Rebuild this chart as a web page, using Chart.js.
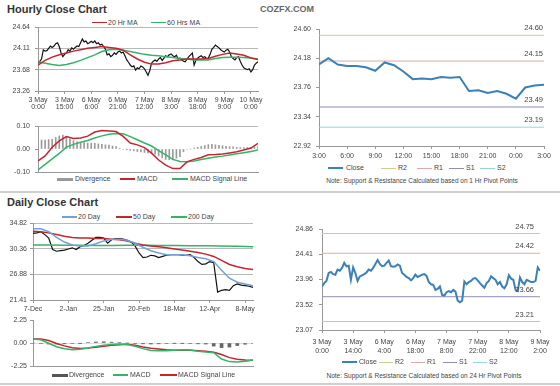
<!DOCTYPE html>
<html>
<head>
<meta charset="utf-8">
<script src="https://cdn.jsdelivr.net/npm/chart.js@4.4.1/dist/chart.umd.min.js"></script>
<style>
  body { margin: 0; width: 560px; height: 386px; position: relative; background: #fff; overflow: hidden;
         font-family: "Liberation Sans", Arial, sans-serif; }
  canvas { position: absolute; }
  .title { position: absolute; left: 7px; font-weight: bold; font-size: 11px; color: #333; line-height: 12px; }
  .brand { position: absolute; left: 260px; top: 4px; font-weight: bold; font-size: 9px; color: #666; line-height: 10px; }
  .lg { position: absolute; font-size: 7px; color: #444; white-space: nowrap; line-height: 8px; }
  .sw { position: absolute; }
  .note { position: absolute; font-size: 6.5px; color: #444; text-align: center; white-space: nowrap; line-height: 8px; }
  .rule { position: absolute; left: 0; width: 560px; height: 2px; background: #cfcfcf; }
</style>
</head>
<body>
<div class="title" style="top:3px">Hourly Close Chart</div>
<div class="brand">COZFX.COM</div>
<div class="rule" style="top:191px"></div>
<div class="title" style="top:196px">Daily Close Chart</div>
<div class="rule" style="top:383px"></div>
<div class="note" style="left:322px;width:200px;top:177px">Note: Support &amp; Resistance Calculated based on 1 Hr Pivot Points</div>
<div class="note" style="left:324px;width:200px;top:372px">Note: Support &amp; Resistance Calculated based on 24 Hr Pivot Points</div>

<script>
// ── Hourly close chart (hourly points from 3 May 0:00) ──
const hourlyTicks = [0, 15, 30, 45, 60, 75, 90, 105, 120]
const hourlyTickLabels = [
  ['3 May', '0:00'], ['3 May', '15:00'], ['6 May', '6:00'], ['6 May', '21:00'], ['7 May', '12:00'],
  ['8 May', '3:00'], ['8 May', '18:00'], ['9 May', '9:00'], ['10 May', '0:00'],
]
const hourlyYTicks = [23.26, 23.72, 24.18, 24.64]
const hourlyYLabels = ['23.26', '23.68', '24.11', '24.64']

const hourlyClose = [
  23.86, 23.90, 23.95, 24.15, 24.12, 24.13, 24.18, 24.23, 24.20, 24.23,
  24.28, 24.30, 24.22, 24.08, 24.00, 24.05, 24.08, 24.15, 24.12, 24.19,
  24.16, 24.20, 24.23, 24.22, 24.30, 24.38, 24.32, 24.34, 24.28, 24.30,
  24.33, 24.30, 24.34, 24.28, 24.30, 24.25, 24.27, 24.22, 24.16, 24.04,
  24.06, 24.00, 24.03, 24.08, 24.05, 24.10, 24.12, 24.08, 24.10, 24.02,
  23.93, 23.88, 23.82, 23.78, 23.80, 23.71, 23.76, 23.74, 23.80, 23.78,
  23.74, 23.67, 23.60, 23.70, 23.86, 23.90, 23.93, 23.90, 23.95, 23.98,
  23.92, 23.97, 24.02, 24.00, 24.04, 24.06, 24.02, 24.00, 24.03, 23.95,
  23.97, 23.93, 23.90, 23.89, 23.95, 24.00, 24.04, 24.08, 23.82, 23.92,
  23.97, 24.00, 24.02, 23.98, 24.00, 23.96, 23.97, 24.05, 24.16, 24.20,
  24.25, 24.22, 24.19, 24.15, 24.12, 24.10, 24.14, 24.16, 24.10, 24.00,
  23.96, 23.93, 23.98, 24.00, 23.90, 23.82, 23.76, 23.74, 23.72, 23.74,
  23.67, 23.72, 23.82, 23.86, 23.89,
]
// every 4 hours
const hourlyMA20 = [
  23.82, 23.92, 23.99, 24.04, 24.08, 24.12, 24.15, 24.18, 24.20, 24.22, 24.20, 24.18, 24.14, 24.04, 23.95, 23.88,
  23.84, 23.84, 23.87, 23.91, 23.93, 23.95, 23.95, 23.95, 23.96, 24.01, 24.05, 24.08, 24.06, 24.03, 23.97, 23.94,
]
const hourlyMA60 = [
  23.89, 23.86, 23.83, 23.81, 23.83, 23.87, 23.92, 23.98, 24.04, 24.11, 24.15, 24.16, 24.14, 24.11, 24.08, 24.05,
  24.03, 24.02, 24.00, 23.98, 23.96, 23.95, 23.93, 23.93, 23.93, 23.96, 23.98, 23.99, 23.99, 23.98, 23.97, 23.95,
]
const hourlyMacd = [
  -0.052, -0.030, 0.008, 0.035, 0.054, 0.046, 0.048, 0.056, 0.074, 0.080, 0.078, 0.076, 0.055, 0.026, 0.018, 0.006,
  -0.018, -0.048, -0.070, -0.085, -0.085, -0.056, -0.045, -0.037, -0.025, -0.024, -0.022, -0.017, -0.012, -0.004, 0.004, 0.025,
]
const hourlySignal = [
  -0.091, -0.067, -0.043, -0.019, 0.008, 0.020, 0.029, 0.037, 0.048, 0.057, 0.064, 0.067, 0.066, 0.054, 0.040, 0.026,
  0.013, -0.007, -0.026, -0.045, -0.054, -0.055, -0.052, -0.046, -0.040, -0.035, -0.031, -0.026, -0.021, -0.016, -0.011, -0.004,
]
// every 2 hours
const hourlyDivergence = [
  0.039, 0.039, 0.039, 0.041, 0.042, 0.050, 0.057, 0.060, 0.055, 0.044, 0.036, 0.031, 0.029, 0.028, 0.026, 0.025,
  0.025, 0.022, 0.020, 0.018, 0.017, 0.013, 0.010, 0.003, -0.002, -0.004, -0.006, -0.008, -0.011, -0.013, -0.015, -0.017,
  -0.018, -0.022, -0.030, -0.038, -0.045, -0.047, -0.048, -0.040, -0.033, -0.012, -0.002, 0.000, 0.004, 0.007, 0.011, 0.015,
  0.019, 0.020, 0.018, 0.016, 0.014, 0.012, 0.010, 0.009, 0.007, 0.006, 0.006, 0.006, 0.006, 0.008, 0.010,
]

// ── Hourly pivot chart (last 24 hours) ──
const pivotHourTicks = [0, 3, 6, 9, 12, 15, 18, 21, 24]
const pivotHourTickLabels = ['3:00', '6:00', '9:00', '12:00', '15:00', '18:00', '21:00', '0:00', '3:00']
const pivotHourYTicks = [22.92, 23.34, 23.76, 24.18, 24.60]
const pivotHourYLabels = ['22.92', '23.34', '23.76', '24.18', '24.60']
const pivotHourClose = [
  24.09, 24.18, 24.09, 24.07, 24.07, 24.05, 24.00, 24.12, 24.08, 23.99, 23.88, 23.89, 23.88,
  23.91, 23.90, 23.91, 23.71, 23.72, 23.68, 23.71, 23.67, 23.60, 23.76, 23.79, 23.80,
]
const pivotHourLevels = [24.51, 24.14, 23.48, 23.19]          // R2, R1, S1, S2
const pivotHourLevelLabels = ['24.60', '24.15', '23.49', '23.19']

// ── Daily close chart (trading days from 7 Dec) ──
const dailyTicks = [0, 18, 36, 54, 72, 90, 108]
const dailyTickLabels = ['7-Dec', '2-Jan', '25-Jan', '20-Feb', '18-Mar', '12-Apr', '8-May']
const dailyYTicks = [21.41, 25.88, 30.35, 34.82]
const dailyYLabels = ['21.41', '26.88', '30.36', '34.82']
// every 2 days
const dailyClose = [
  33.0, 33.1, 33.3, 32.8, 32.2, 30.2, 29.9, 30.0, 30.1, 30.3,
  30.5, 30.2, 30.7, 30.9, 31.3, 31.8, 32.3, 32.3, 32.2, 31.3,
  31.9, 32.1, 32.1, 32.0, 31.8, 31.5, 30.8, 29.6, 28.8, 28.9,
  29.2, 29.1, 28.8, 29.0, 29.2, 29.3, 29.3, 29.3, 29.2, 29.2,
  29.3, 28.8, 28.1, 27.6, 27.7, 28.1, 27.9, 22.8, 23.1, 23.2,
  23.1, 23.9, 24.2, 24.0, 23.9, 23.8, 23.6,
]
// every 4 days
const daily20 = [
  33.8, 33.8, 33.3, 32.3, 31.5, 31.0, 30.8, 30.8, 31.2, 31.7, 32.0, 32.0, 31.8, 31.3, 30.6,
  30.0, 29.6, 29.3, 29.3, 29.3, 29.1, 28.8, 28.6, 28.1, 26.6, 25.2, 24.5, 24.2, 23.9,
]
const daily50 = [
  33.4, 33.3, 33.1, 32.8, 32.5, 32.3, 32.2, 32.2, 32.1, 32.1, 32.0, 31.9, 31.7, 31.3, 31.0,
  30.8, 30.7, 30.5, 30.3, 30.1, 29.9, 29.7, 29.4, 29.0, 28.3, 27.6, 27.2, 26.9, 26.7,
]
// every 8 days
const daily200 = [31.0, 31.0, 30.95, 30.95, 30.9, 30.9, 30.95, 30.95, 30.9, 30.9, 30.85, 30.85, 30.8, 30.75, 30.7]
// every 4 days
const dailyMacd = [
  0.40, 0.32, -0.03, -0.37, -0.57, -0.66, -0.60, -0.48, -0.33, -0.23, -0.15, -0.10, -0.14, -0.32, -0.55,
  -0.74, -0.77, -0.77, -0.70, -0.67, -0.68, -0.80, -0.87, -0.95, -1.57, -1.82, -1.85, -1.79, -1.66,
]
const dailySignal = [
  0.40, 0.39, 0.25, -0.05, -0.28, -0.47, -0.54, -0.49, -0.42, -0.31, -0.22, -0.17, -0.13, -0.23, -0.39,
  -0.51, -0.59, -0.67, -0.70, -0.70, -0.72, -0.76, -0.81, -0.90, -1.13, -1.43, -1.59, -1.67, -1.68,
]
const dailyDivergence = [
  0.00, -0.05, -0.10, -0.10, -0.08, -0.05, -0.02, 0.05, 0.10, 0.12, 0.08, 0.05, 0.00, -0.05, -0.08,
  -0.10, -0.08, -0.05, -0.02, -0.02, -0.05, -0.08, -0.10, -0.30, -0.45, -0.40, -0.25, -0.12, -0.05,
]

// ── 24 hr pivot chart (hourly from 3 May 0:00) ──
const pivotDayTicks = [0, 14, 28, 42, 56, 70, 84, 98]
const pivotDayTickLabels = [
  ['3 May', '0:00'], ['3 May', '14:00'], ['6 May', '4:00'], ['6 May', '18:00'],
  ['7 May', '8:00'], ['7 May', '22:00'], ['8 May', '12:00'], ['9 May', '2:00'],
]
const pivotDayYTicks = [23.07, 23.5175, 23.965, 24.4125, 24.86]
const pivotDayYLabels = ['23.07', '23.52', '23.96', '24.41', '24.86']
const pivotDayClose = [
  23.84, 23.90, 23.94, 24.08, 24.10, 24.06, 24.05, 24.14, 24.12, 24.17,
  24.26, 24.20, 24.21, 23.96, 24.18, 24.08, 23.94, 24.02, 24.04, 24.06,
  24.09, 24.14, 24.12, 24.17, 24.24, 24.31, 24.24, 24.20, 24.21, 24.26,
  24.30, 24.20, 24.19, 24.20, 24.23, 24.21, 24.08, 24.05, 24.01, 23.99,
  23.95, 23.99, 24.05, 24.01, 24.03, 24.05, 24.06, 24.03, 23.92, 23.88,
  23.87, 23.78, 23.80, 23.84, 23.69, 23.68, 23.74, 23.76, 23.74, 23.78,
  23.75, 23.59, 23.56, 23.59, 23.93, 23.88, 23.92, 23.94, 23.98, 23.99,
  23.95, 23.90, 23.86, 23.82, 23.90, 23.94, 24.02, 23.99, 23.96, 23.88,
  23.92, 23.84, 23.81, 23.88, 24.04, 23.98, 23.96, 23.78, 23.76, 24.00,
  23.92, 23.88, 23.96, 23.94, 23.92, 23.92, 23.94, 24.18, 24.12,
]
const pivotDayLevels = [24.78, 24.43, 23.66, 23.22]
const pivotDayLevelLabels = ['24.75', '24.42', '23.66', '23.21']

// ── Colours ──
const RED = '#c4262e'
const GREEN = '#34b46a'
const BLUE_MA = '#72a2d4'
const BLUE_CLOSE = '#3b80b8'
const PIVOT_COLORS = ['#cdcd95', '#dcaaaa', '#8e8eb6', '#95d2e2']

const FONT = '"Liberation Sans", Arial, sans-serif'
Chart.defaults.font.family = FONT
Chart.defaults.color = '#444'

// values on a regular grid -> {x, y}
const pts = (values, step) => values.map((v, i) => ({ x: i * step, y: v }))
const flat = (v, x0, x1) => [{ x: x0, y: v }, { x: x1, y: v }]

function line(data, color, width, order) {
  return { type: 'line', data, borderColor: color, borderWidth: width, pointRadius: 0, tension: 0, order }
}
function bars(data, color, thickness) {
  return { type: 'bar', data, backgroundColor: color, barThickness: thickness, order: 5 }
}

function xScale(min, max, ticks, labels, o) {
  return {
    type: 'linear', min, max, offset: false,
    afterBuildTicks: s => { s.ticks = ticks.map(v => ({ value: v })) },
    afterFit: s => { s.height = o.xh; s.paddingLeft = 0; s.paddingRight = 0 },
    ticks: {
      display: !!labels, autoSkip: false, maxRotation: 0, padding: o.pad || 0,
      font: { size: 7, lineHeight: o.lh || 1.2 }, color: '#444',
      callback: (v, i) => (labels ? labels[i] : ''),
    },
    grid: { drawOnChartArea: false, drawTicks: !!labels, tickLength: 3, tickColor: '#999' },
    border: { color: '#999' },
  }
}

function yScale(min, max, ticks, labels, o) {
  return {
    type: 'linear', min, max,
    afterBuildTicks: s => { s.ticks = ticks.map(v => ({ value: v })) },
    afterFit: s => { s.width = o.yw; s.paddingTop = 0; s.paddingBottom = 0 },
    ticks: { padding: o.pad, font: { size: 7 }, color: '#444', callback: (v, i) => labels[i] },
    grid: {
      drawOnChartArea: !!o.grid, tickLength: 3, tickColor: '#999',
      color: ctx => (o.grid ? o.grid(ctx.tick.value) : '#999'),
    },
    border: { color: '#999' },
  }
}

// draws the pivot level values above their lines
const pivotText = {
  id: 'pivotText',
  afterDatasetsDraw(chart, args, opts) {
    if (!opts.values) return
    const { ctx, chartArea, scales } = chart
    ctx.save()
    ctx.font = `7.5px ${FONT}`
    ctx.fillStyle = '#444'
    ctx.textAlign = 'right'
    ctx.textBaseline = 'middle'
    opts.values.forEach((v, i) => {
      ctx.fillText(opts.labels[i], chartArea.right - opts.inset, scales.y.getPixelForValue(v) - 7)
    })
    ctx.restore()
  },
}

function makeChart(box, datasets, xs, ys, pivotOpts) {
  const c = document.createElement('canvas')
  c.width = box.w
  c.height = box.h
  c.style.left = box.l + 'px'
  c.style.top = box.t + 'px'
  document.body.appendChild(c)
  return new Chart(c, {
    type: 'line',
    data: { datasets },
    options: {
      responsive: false, animation: false, devicePixelRatio: 1,
      layout: { padding: { left: 0, top: box.pt, right: box.pr, bottom: 0 } },
      plugins: { legend: { display: false }, tooltip: { enabled: false }, pivotText: pivotOpts || {} },
      scales: { x: xs, y: ys },
    },
    plugins: [pivotText],
  })
}

function legend(y, items) {
  items.forEach(([swLeft, swW, color, thick, textLeft, text]) => {
    const s = document.createElement('div')
    s.className = 'sw'
    Object.assign(s.style, { left: swLeft + 'px', top: (y - thick / 2) + 'px', width: swW + 'px', height: thick + 'px', background: color })
    document.body.appendChild(s)
    const t = document.createElement('div')
    t.className = 'lg'
    t.textContent = text
    Object.assign(t.style, { left: textLeft + 'px', top: (y - 4) + 'px' })
    document.body.appendChild(t)
  })
}

const priceGrid = () => '#b8b8b8'

// ── Hourly price ──
legend(22.5, [[92, 15, RED, 1.5, 108, '20 Hr MA'], [151, 15, GREEN, 1.5, 167, '60 Hrs MA']])
makeChart(
  { l: 0, t: 20, w: 266, h: 95, pt: 7, pr: 8 },
  [
    line(pts(hourlyMA20, 4), RED, 1.5, 1),
    line(pts(hourlyMA60, 4), GREEN, 1.5, 2),
    line(pts(hourlyClose, 1), '#111', 1.2, 3),
  ],
  xScale(0, 124, hourlyTicks, hourlyTickLabels, { xh: 24, pad: 3, lh: 0.95 }),
  yScale(23.26, 24.64, hourlyYTicks, hourlyYLabels, { yw: 38, pad: 5, grid: priceGrid }),
)

// ── Hourly MACD ──
legend(179, [[57, 16, '#999', 3, 75, 'Divergence'], [120, 15, RED, 1.5, 137, 'MACD'], [172, 16, GREEN, 1.5, 190, 'MACD Signal Line']])
makeChart(
  { l: 0, t: 118, w: 266, h: 56, pt: 8, pr: 8 },
  [
    bars(pts(hourlyDivergence, 2), '#9a9a9a', 1),
    line(pts(hourlyMacd, 4), RED, 1.5, 1),
    line(pts(hourlySignal, 4), GREEN, 1.5, 2),
  ],
  xScale(0, 124, [], null, { xh: 2 }),
  yScale(-0.1, 0.1, [-0.1, 0, 0.1], ['-0.10', '0.00', '0.10'], { yw: 38, pad: 5, grid: v => (v === 0 ? 'rgba(0,0,0,0)' : '#b8b8b8') }),
)

// ── Hourly pivot ──
legend(168, [
  [328, 15, BLUE_CLOSE, 2, 346, 'Close'], [381, 15, PIVOT_COLORS[0], 1, 398, 'R2'], [417, 15, PIVOT_COLORS[1], 1, 434, 'R1'],
  [449, 15, PIVOT_COLORS[2], 1, 466, 'S1'], [480, 15, PIVOT_COLORS[3], 1, 497, 'S2'],
])
makeChart(
  { l: 280, t: 20, w: 280, h: 145, pt: 9, pr: 16 },
  [
    ...pivotHourLevels.map((v, i) => line(flat(v, 0, 24), PIVOT_COLORS[i], 1, 3)),
    line(pts(pivotHourClose, 1), BLUE_CLOSE, 2, 1),
  ],
  xScale(0, 24, pivotHourTicks, pivotHourTickLabels, { xh: 19, pad: 3 }),
  yScale(22.92, 24.60, pivotHourYTicks, pivotHourYLabels, { yw: 39, pad: 5 }),
  { values: pivotHourLevels, labels: pivotHourLevelLabels, inset: 1 },
)

// ── Daily price ──
legend(217, [[62, 15, BLUE_MA, 1.5, 78, '20 Day'], [116, 16, RED, 1.5, 133, '50 Day'], [171, 16, GREEN, 1.5, 188, '200 Day']])
makeChart(
  { l: 0, t: 220, w: 262, h: 96, pt: 3, pr: 9 },
  [
    line(pts(daily20, 4), BLUE_MA, 1.5, 1),
    line(pts(daily50, 4), RED, 1.5, 1),
    line(pts(daily200, 8), GREEN, 1.5, 1),
    line(pts(dailyClose, 2), '#111', 1.2, 3),
  ],
  xScale(0, 112, dailyTicks, dailyTickLabels, { xh: 16, pad: 2 }),
  yScale(21.41, 34.82, dailyYTicks, dailyYLabels, { yw: 33, pad: 3, grid: priceGrid }),
)

// ── Daily MACD ──
legend(375, [[52, 16, '#555', 3, 69, 'Divergence'], [113, 15, GREEN, 1.5, 130, 'MACD'], [160, 17, RED, 1.5, 178, 'MACD Signal Line']])
makeChart(
  { l: 0, t: 314, w: 262, h: 54, pt: 6, pr: 9 },
  [
    bars(pts(dailyDivergence, 4), '#666', 3),
    line(pts(dailyMacd, 4), GREEN, 1.5, 1),
    line(pts(dailySignal, 4), RED, 1.5, 2),
  ],
  xScale(0, 112, [], null, { xh: 2 }),
  yScale(-2.25, 2.25, [-2.25, 0, 2.25], ['-2.25', '0.00', '2.25'], { yw: 33, pad: 3, grid: v => (v === 0 ? '#dddddd' : 'rgba(0,0,0,0)') }),
)

// ── Daily pivot ──
legend(362, [
  [342, 15, BLUE_CLOSE, 2, 359, 'Close'], [379, 14, PIVOT_COLORS[0], 1, 395, 'R2'], [411, 14, PIVOT_COLORS[1], 1, 427, 'R1'],
  [443, 14, PIVOT_COLORS[2], 1, 459, 'S1'], [473, 14, PIVOT_COLORS[3], 1, 489, 'S2'],
])
makeChart(
  { l: 280, t: 222, w: 280, h: 136, pt: 7, pr: 20 },
  [
    ...pivotDayLevels.map((v, i) => line(flat(v, 0, 98), PIVOT_COLORS[i], 1, 3)),
    line(pts(pivotDayClose, 1), BLUE_CLOSE, 2, 1),
  ],
  xScale(0, 98, pivotDayTicks, pivotDayTickLabels, { xh: 28, pad: 5, lh: 1.2 }),
  yScale(23.07, 24.86, pivotDayYTicks, pivotDayYLabels, { yw: 42, pad: 6 }),
  { values: pivotDayLevels, labels: pivotDayLevelLabels, inset: 6 },
)
</script>
</body>
</html>
